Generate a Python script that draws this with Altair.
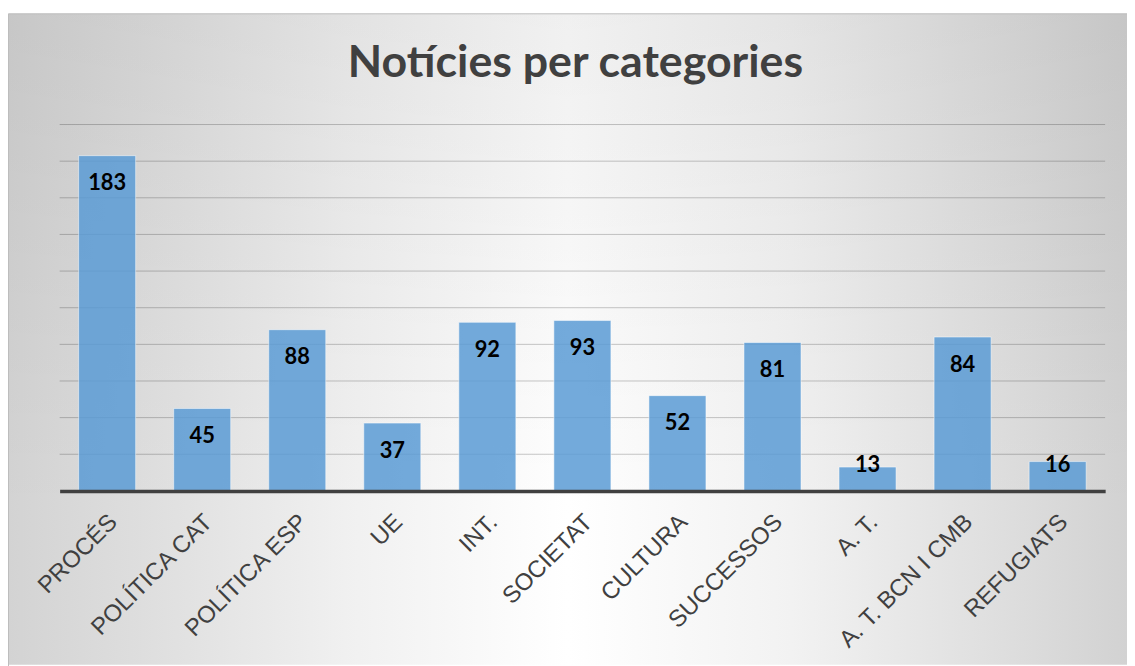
import altair as alt
import pandas as pd

categories = ["PROCÉS", "POLÍTICA CAT", "POLÍTICA ESP", "UE", "INT.", "SOCIETAT",
              "CULTURA", "SUCCESSOS", "A. T.", "A. T. BCN I CMB", "REFUGIATS"]
counts = [183, 45, 88, 37, 92, 93, 52, 81, 13, 84, 16]
grid_values = [20, 40, 60, 80, 100, 120, 140, 160, 180, 200]
title_text = "Notícies per categories"

W, H = 1053, 369
PAD_L, PAD_T, PAD_R, PAD_B = 52, 115, 22, 174

df = pd.DataFrame({"cat": categories, "n": counts})
grid_df = pd.DataFrame({"v": grid_values})
one = pd.DataFrame({"k": [0]})

xscale = alt.Scale(paddingInner=0.4, paddingOuter=0.2)
yscale = alt.Scale(domain=[0, 200])

h_grad = alt.LinearGradient(
    gradient="linear", x1=0, x2=1, y1=0, y2=0,
    stops=[
        alt.GradientStop(color="#d3d3d3", offset=0),
        alt.GradientStop(color="#dedede", offset=0.12),
        alt.GradientStop(color="#f0f0f0", offset=0.3),
        alt.GradientStop(color="#ffffff", offset=0.5),
        alt.GradientStop(color="#f2f2f2", offset=0.7),
        alt.GradientStop(color="#dfdfdf", offset=0.88),
        alt.GradientStop(color="#d2d2d2", offset=1),
    ],
)
v_grad = alt.LinearGradient(
    gradient="linear", x1=0, x2=0, y1=0, y2=1,
    stops=[
        alt.GradientStop(color="rgba(0,0,0,0.06)", offset=0),
        alt.GradientStop(color="rgba(0,0,0,0)", offset=0.75),
        alt.GradientStop(color="rgba(0,0,0,0)", offset=1),
    ],
)

bg_h = alt.Chart(one).mark_rect(fill=h_grad).encode(
    x=alt.value(-51.5), x2=alt.value(W + PAD_R), y=alt.value(-111.5), y2=alt.value(H + 175)
)
bg_v = alt.Chart(one).mark_rect(fill=v_grad, stroke="#bcbcbc", strokeWidth=1).encode(
    x=alt.value(-51.5), x2=alt.value(W + PAD_R + 10), y=alt.value(-111.5), y2=alt.value(H + 190)
)

grid = alt.Chart(grid_df).mark_rule(stroke="black", strokeOpacity=0.22, strokeWidth=1).encode(
    y=alt.Y("v:Q", scale=yscale, axis=None)
)

xaxis = alt.Axis(
    labelAngle=315, labelAlign="right", labelBaseline="top",
    labelFont="Liberation Sans", labelFontSize=24, labelColor="#404040",
    labelPadding=19, labelOffset=-2, labelLimit=400, labelOverlap=False,
    ticks=False, grid=False, domainColor="#404040", domainWidth=3.5, zindex=1,
)

bars = alt.Chart(df).mark_bar(
    color="#5b9bd5", fillOpacity=0.85, stroke="white", strokeOpacity=0.5, strokeWidth=1
).encode(
    x=alt.X("cat:N", sort=categories, scale=xscale, title=None, axis=xaxis),
    y=alt.Y("n:Q", scale=yscale, axis=None),
)

labels = alt.Chart(df).transform_calculate(
    label_y="max(datum.n - 15.2, 13.9)"
).mark_text(
    font="Lato", fontWeight="bold", fontSize=22, color="black", baseline="middle"
).encode(
    x=alt.X("cat:N", sort=categories, scale=xscale, title=None, axis=xaxis),
    y=alt.Y("label_y:Q", scale=yscale, axis=None),
    text="n:Q",
)

chart = alt.layer(bg_h, bg_v, grid, bars, labels).properties(
    width=W, height=H,
    padding={"left": PAD_L, "top": PAD_T, "right": PAD_R, "bottom": PAD_B},
    autosize=alt.AutoSizeParams(type="none"),
    background="white",
    title=alt.TitleParams(
        text=title_text, font="Lato", fontSize=45, fontWeight="bold", color="#404040",
        frame="group", anchor="middle", offset=0, dx=-7, dy=109, baseline="alphabetic",
    ),
).configure_view(stroke=None)

chart.save("out.html", embed_options={"renderer": "svg", "actions": False})
